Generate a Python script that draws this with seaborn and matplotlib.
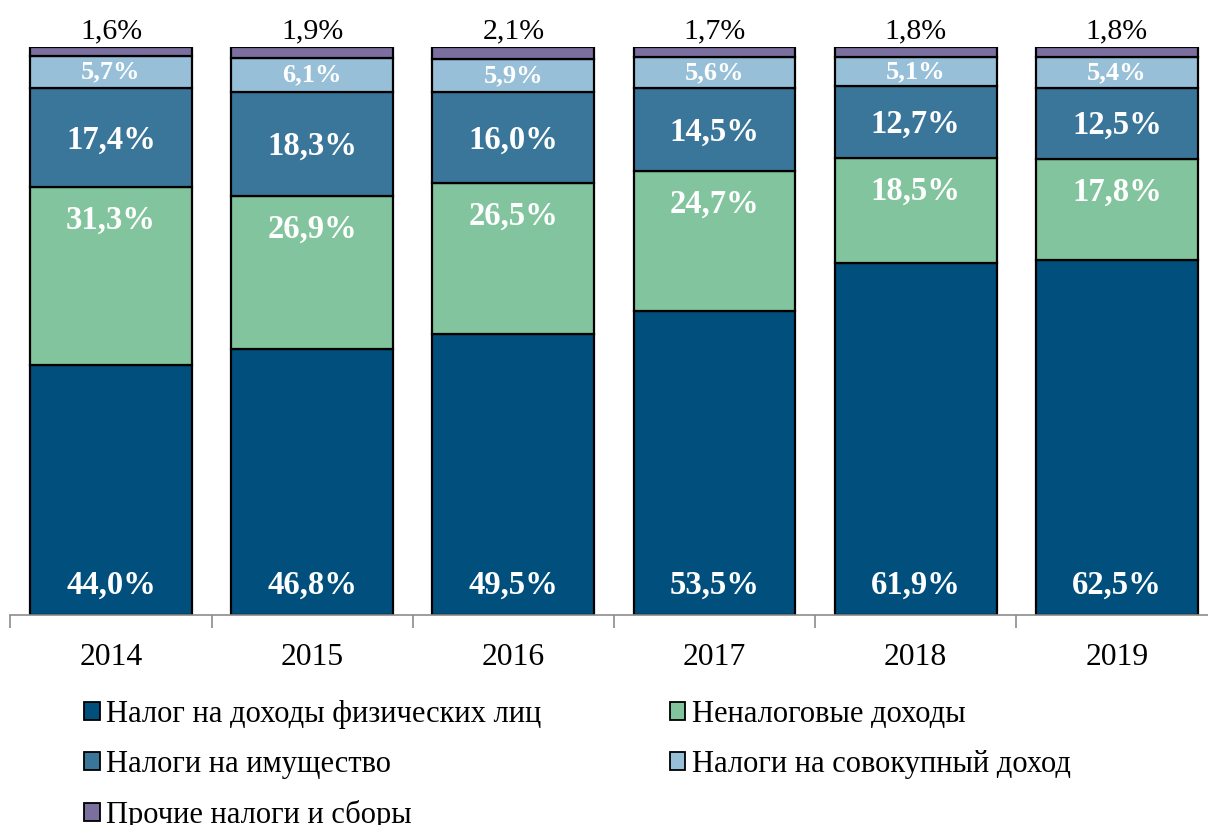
import numpy as np
import pandas as pd
import matplotlib
matplotlib.use("Agg")
import matplotlib.pyplot as plt
import seaborn as sns
from matplotlib.patches import Patch

years = ["2014", "2015", "2016", "2017", "2018", "2019"]
ndfl = [44.0, 46.8, 49.5, 53.5, 61.9, 62.5]
nontax = [31.3, 26.9, 26.5, 24.7, 18.5, 17.8]
property_tax = [17.4, 18.3, 16.0, 14.5, 12.7, 12.5]
aggregate_income = [5.7, 6.1, 5.9, 5.6, 5.1, 5.4]
other = [1.6, 1.9, 2.1, 1.7, 1.8, 1.8]

series_names = [
    "Налог на доходы физических лиц",
    "Неналоговые доходы",
    "Налоги на имущество",
    "Налоги на совокупный доход",
    "Прочие налоги и сборы",
]
series_values = [ndfl, nontax, property_tax, aggregate_income, other]
colors = ["#014f7d", "#82c49d", "#3a769a", "#97c0d8", "#7a6f9e"]

sns.set_theme(style="white")
plt.rcParams["font.family"] = ["Liberation Serif", "DejaVu Serif"]
plt.rcParams["text.color"] = "black"

fig = plt.figure(figsize=(12.08, 8.25), dpi=100)
ax = fig.add_axes([10.4 / 1208, 1 - 615 / 825, 1207 / 1208, (615 - 47) / 825])

df = pd.DataFrame({"year": years})
bottom = np.zeros(len(years))
for name, vals, col in zip(series_names, series_values, colors):
    df[name] = vals
    sns.barplot(data=df, x="year", y=name, bottom=bottom, color=col,
                width=0.805, edgecolor="black", linewidth=1.6, ax=ax,
                saturation=1)
    bottom = bottom + np.array(vals)


def fmt(v):
    return f"{v:.1f}%".replace(".", ",")


big = 23.5
for i in range(len(years)):
    # income tax: label sits near the base of the bar
    ax.text(i, 5.3, fmt(ndfl[i]), ha="center", va="center", color="white",
            fontsize=big, fontweight="bold")
    b1 = ndfl[i] + nontax[i]
    ax.text(i, b1 - 5.8, fmt(nontax[i]), ha="center", va="center", color="white",
            fontsize=big, fontweight="bold")
    b2 = b1 + property_tax[i]
    ax.text(i, (b1 + b2) / 2 - 0.4, fmt(property_tax[i]), ha="center", va="center",
            color="white", fontsize=big, fontweight="bold")
    b3 = b2 + aggregate_income[i]
    ax.text(i, (b2 + b3) / 2, fmt(aggregate_income[i]), ha="center", va="center",
            color="white", fontsize=19, fontweight="bold")
    b4 = b3 + other[i]
    ax.text(i, b4 + 0.5, fmt(other[i]), ha="center", va="bottom", color="black",
            fontsize=21.5)

ax.set_ylim(0, 100)
ax.set_xlim(-0.5, len(years) - 0.5)
ax.set_xlabel("")
ax.set_ylabel("")
ax.set_yticks([])
for s in ["top", "right", "left"]:
    ax.spines[s].set_visible(False)
ax.spines["bottom"].set_color("#8c8c8c")
ax.spines["bottom"].set_linewidth(1.2)
ax.set_xticks(np.arange(-0.5, len(years), 1), minor=True)
ax.tick_params(axis="x", which="major", length=0, pad=20, labelsize=22.8,
               labelcolor="black")
ax.tick_params(axis="x", which="minor", length=9, width=1.2, color="#8c8c8c",
               direction="out", bottom=True)

handles = [Patch(facecolor=c, edgecolor="black", linewidth=1.3) for c in colors]
order = [0, 2, 4, 1, 3]
fig.legend([handles[k] for k in order], [series_names[k] for k in order],
           loc="upper left", bbox_to_anchor=(84 / 1208, 1 - 700 / 825),
           ncol=2, frameon=False, fontsize=22, handlelength=0.52, handleheight=0.52,
           handletextpad=0.2, columnspacing=4.2, labelspacing=0.68,
           borderaxespad=0, borderpad=0, labelcolor="black")

fig.savefig("out.png", dpi=100)
